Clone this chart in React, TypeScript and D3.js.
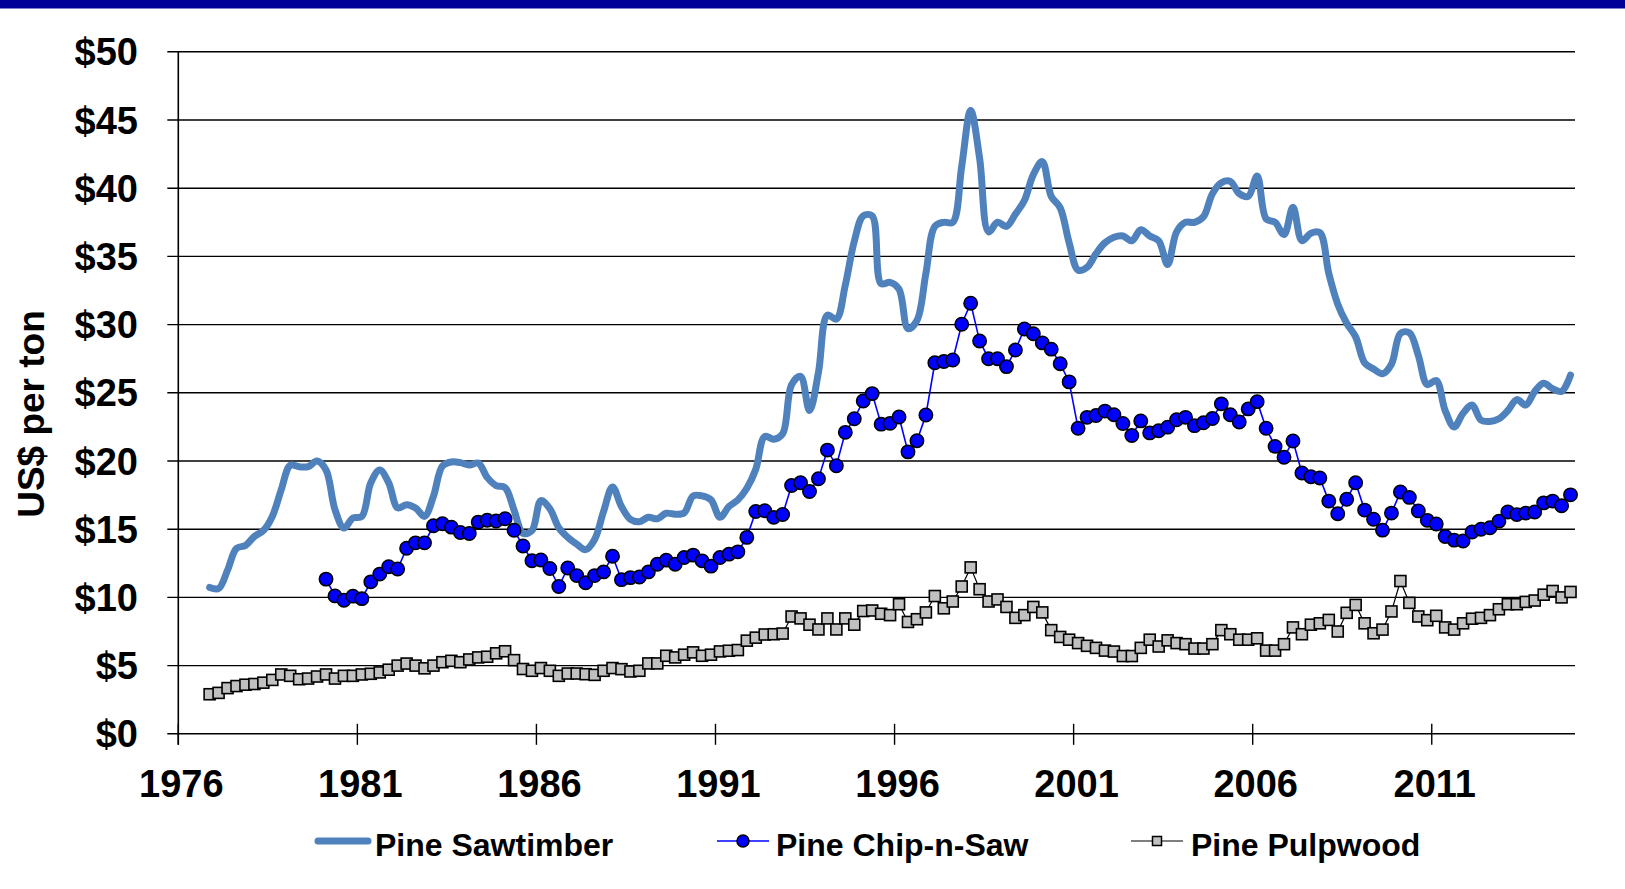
import React from 'react';
import * as d3 from 'd3';

// Quarterly observations; first observation is 1977 Q1 (plotted at the quarter boundary offset)
const FIRST_YEAR = 1977;
const QUARTER_OFFSET = -0.125;
const CNS_START_INDEX = 13;

const sawtimber = [
  10.73, 10.65, 12.0, 13.6, 13.8, 14.47, 14.9, 15.94, 17.9, 19.68,
  19.58, 19.58, 20.0, 19.34, 16.43, 15.08, 15.82, 15.94, 18.4, 19.34,
  18.4, 16.56, 16.8, 16.56, 15.94, 17.42, 19.63, 19.93, 19.88, 19.7,
  19.85, 18.8, 18.2, 18.05, 16.4, 14.7, 14.9, 17.1, 16.5, 15.1,
  14.4, 13.9, 13.5, 14.25, 16.3, 18.1, 16.66, 15.72, 15.55, 15.87,
  15.77, 16.17, 16.1, 16.2, 17.44, 17.44, 17.15, 15.87, 16.66, 17.15,
  18.0, 19.4, 21.8, 21.6, 22.0, 25.6, 26.2, 23.7, 26.5, 30.7,
  30.4, 32.9, 36.1, 37.97, 37.97, 33.0, 33.1, 32.6, 29.7, 30.3,
  33.75, 37.2, 37.5, 37.5, 41.6, 45.7, 42.2, 36.8, 37.5, 37.2,
  38.1, 39.1, 41.0, 41.95, 39.4, 38.56, 36.0, 34.0, 34.2, 35.2,
  36.0, 36.4, 36.5, 36.15, 36.95, 36.5, 36.15, 34.4, 36.8, 37.5,
  37.5, 37.9, 39.6, 40.4, 40.5, 39.6, 39.4, 40.9, 37.75, 37.5,
  36.6, 38.6, 36.15, 36.7, 36.74, 33.75, 31.5, 30.1, 29.1, 27.2,
  26.75, 26.4, 27.1, 29.35, 29.4, 27.75, 25.6, 25.9, 23.7, 22.5,
  23.5, 24.1, 23.0, 22.9, 23.1, 23.7, 24.5, 24.1, 25.1, 25.7,
  25.3, 25.1, 26.3,
];

const chipNSaw = [
  11.34, 10.11, 9.79, 10.09, 9.91, 11.14, 11.71, 12.25, 12.08, 13.6,
  14.0, 14.0, 15.25, 15.4, 15.15, 14.76, 14.68, 15.52, 15.66, 15.6,
  15.77, 14.92, 13.77, 12.69, 12.74, 12.12, 10.8, 12.16, 11.6, 11.07,
  11.6, 11.87, 13.02, 11.3, 11.45, 11.5, 11.87, 12.43, 12.73, 12.43,
  12.92, 13.1, 12.68, 12.29, 12.92, 13.17, 13.34, 14.4, 16.3, 16.35,
  15.87, 16.08, 18.2, 18.4, 17.76, 18.7, 20.8, 19.65, 22.1, 23.1,
  24.4, 24.94, 22.7, 22.76, 23.23, 20.67, 21.48, 23.37, 27.2, 27.3,
  27.4, 30.03, 31.57, 28.8, 27.5, 27.5, 26.92, 28.14, 29.68, 29.33,
  28.66, 28.2, 27.13, 25.8, 22.4, 23.2, 23.34, 23.66, 23.39, 22.75,
  21.87, 22.94, 22.06, 22.22, 22.48, 23.02, 23.2, 22.59, 22.8, 23.12,
  24.19, 23.39, 22.86, 23.82, 24.35, 22.4, 21.07, 20.27, 21.47, 19.12,
  18.85, 18.75, 17.06, 16.13, 17.2, 18.4, 16.4, 15.73, 14.93, 16.18,
  17.73, 17.33, 16.34, 15.65, 15.38, 14.47, 14.2, 14.13, 14.79, 15.0,
  15.11, 15.59, 16.26, 16.07, 16.18, 16.26, 16.93, 17.06, 16.72, 17.52,
];

const pulpwood = [
  2.9, 3.0, 3.35, 3.5, 3.6, 3.65, 3.75, 3.95, 4.35, 4.25,
  4.0, 4.05, 4.2, 4.35, 4.05, 4.25, 4.25, 4.35, 4.4, 4.5,
  4.7, 5.0, 5.15, 5.0, 4.8, 5.0, 5.25, 5.35, 5.25, 5.45,
  5.6, 5.65, 5.9, 6.05, 5.4, 4.75, 4.62, 4.82, 4.62, 4.25,
  4.42, 4.42, 4.37, 4.32, 4.62, 4.82, 4.74, 4.57, 4.62, 5.16,
  5.16, 5.72, 5.6, 5.8, 5.97, 5.72, 5.8, 6.04, 6.09, 6.14,
  6.83, 7.05, 7.28, 7.3, 7.35, 8.6, 8.46, 8.0, 7.65, 8.46,
  7.65, 8.46, 8.0, 9.0, 9.04, 8.8, 8.7, 9.5, 8.2, 8.4,
  8.9, 10.1, 9.2, 9.7, 10.8, 12.2, 10.6, 9.7, 9.85, 9.3,
  8.5, 8.7, 9.3, 8.9, 7.6, 7.1, 6.9, 6.65, 6.45, 6.3,
  6.1, 6.03, 5.7, 5.7, 6.3, 6.9, 6.4, 6.85, 6.65, 6.57,
  6.25, 6.25, 6.57, 7.6, 7.3, 6.9, 6.9, 7.0, 6.1, 6.1,
  6.57, 7.8, 7.3, 8.0, 8.1, 8.35, 7.5, 8.87, 9.45, 8.1,
  7.37, 7.64, 8.97, 11.2, 9.6, 8.6, 8.33, 8.65, 7.8, 7.64,
  8.1, 8.44, 8.5, 8.7, 9.13, 9.5, 9.5, 9.67, 9.77, 10.2,
  10.47, 10.0, 10.4,
];

const yearTicks = [1976, 1981, 1986, 1991, 1996, 2001, 2006, 2011];
const priceTicks = [0, 5, 10, 15, 20, 25, 30, 35, 40, 45, 50];
const seriesNames = ['Pine Sawtimber', 'Pine Chip-n-Saw', 'Pine Pulpwood'];
const yAxisTitle = 'US$ per ton';

const FONT = "'Liberation Sans', Arial, Helvetica, sans-serif";
const SAW_COLOR = '#4F81BD';
const CNS_COLOR = '#0000FF';
const PULP_FILL = '#C0C0C0';

type Pt = { t: number; v: number };

export default function App() {
  const W = 1625;
  const H = 889;
  const left = 178.3;
  const right = 1575;
  const top = 51.8;
  const bottom = 733.8;

  const x = d3.scaleLinear().domain([1976, 2015]).range([left, right]);
  const y = d3.scaleLinear().domain([0, 50]).range([bottom, top]);
  const tq = (i: number) => FIRST_YEAR + QUARTER_OFFSET + i / 4;

  const sawPts: Pt[] = sawtimber.map((v, i) => ({ t: tq(i), v }));
  const cnsPts: Pt[] = chipNSaw.map((v, i) => ({ t: tq(i + CNS_START_INDEX), v }));
  const pulpPts: Pt[] = pulpwood.map((v, i) => ({ t: tq(i), v }));

  const smooth = d3
    .line<Pt>()
    .x((d) => x(d.t))
    .y((d) => y(d.v))
    .curve(d3.curveCatmullRom.alpha(0.5));
  const straight = d3
    .line<Pt>()
    .x((d) => x(d.t))
    .y((d) => y(d.v));

  const sq = 11;
  const legSq = 9;
  const legendY = 841;

  return (
    <svg
      width={W}
      height={H}
      viewBox={`0 0 ${W} ${H}`}
      style={{ position: 'absolute', left: 0, top: 0, display: 'block', background: '#fff' }}
      fontFamily={FONT}
      fontWeight="bold"
    >
      <rect x={0} y={0} width={W} height={H} fill="#fff" />
      <rect x={0} y={0} width={W} height={8.5} fill="#000099" />

      {/* gridlines + y ticks */}
      {priceTicks.map((p) => (
        <g key={p}>
          <line x1={left - 11} x2={right} y1={y(p)} y2={y(p)} stroke="#000" strokeWidth={1.4} />
          <text x={138} y={y(p)} dy="0.36em" textAnchor="end" fontSize={38} fill="#000">
            {`$${p}`}
          </text>
        </g>
      ))}

      {/* y axis */}
      <line x1={left} x2={left} y1={top} y2={bottom + 11} stroke="#000" strokeWidth={1.6} />

      {/* x ticks + labels */}
      {yearTicks.map((yr) => (
        <g key={yr}>
          <line x1={x(yr)} x2={x(yr)} y1={bottom - 10} y2={bottom + 11} stroke="#000" strokeWidth={1.4} />
          <text x={x(yr) + 3} y={797} textAnchor="middle" fontSize={38} fill="#000">
            {yr}
          </text>
        </g>
      ))}

      {/* y title */}
      <text
        transform={`translate(44, 414) rotate(-90)`}
        textAnchor="middle"
        fontSize={37}
        fill="#000"
      >
        {yAxisTitle}
      </text>

      {/* Sawtimber */}
      <path
        d={smooth(sawPts) || ''}
        fill="none"
        stroke={SAW_COLOR}
        strokeWidth={7}
        strokeLinecap="round"
        strokeLinejoin="round"
      />

      {/* Chip-n-Saw */}
      <path d={straight(cnsPts) || ''} fill="none" stroke={CNS_COLOR} strokeWidth={1.6} />
      {cnsPts.map((d, i) => (
        <circle key={i} cx={x(d.t)} cy={y(d.v)} r={6.7} fill={CNS_COLOR} stroke="#000" strokeWidth={1.5} />
      ))}

      {/* Pulpwood */}
      <path d={straight(pulpPts) || ''} fill="none" stroke="#000" strokeWidth={1.2} />
      {pulpPts.map((d, i) => (
        <rect
          key={i}
          x={x(d.t) - sq / 2}
          y={y(d.v) - sq / 2}
          width={sq}
          height={sq}
          fill={PULP_FILL}
          stroke="#000"
          strokeWidth={1.6}
        />
      ))}

      {/* Legend */}
      <g>
        <line x1={318} x2={368} y1={legendY} y2={legendY} stroke={SAW_COLOR} strokeWidth={7} strokeLinecap="round" />
        <text x={375} y={856} fontSize={32} fill="#000">
          {seriesNames[0]}
        </text>

        <line x1={717} x2={769} y1={legendY} y2={legendY} stroke={CNS_COLOR} strokeWidth={1.6} />
        <circle cx={743} cy={legendY} r={6} fill={CNS_COLOR} stroke="#000" strokeWidth={1.5} />
        <text x={776} y={856} fontSize={32} fill="#000">
          {seriesNames[1]}
        </text>

        <line x1={1131} x2={1183} y1={legendY} y2={legendY} stroke="#000" strokeWidth={1.2} />
        <rect x={1157 - legSq / 2} y={legendY - legSq / 2} width={legSq} height={legSq} fill={PULP_FILL} stroke="#000" strokeWidth={1.5} />
        <text x={1191} y={856} fontSize={32} fill="#000">
          {seriesNames[2]}
        </text>
      </g>
    </svg>
  );
}
